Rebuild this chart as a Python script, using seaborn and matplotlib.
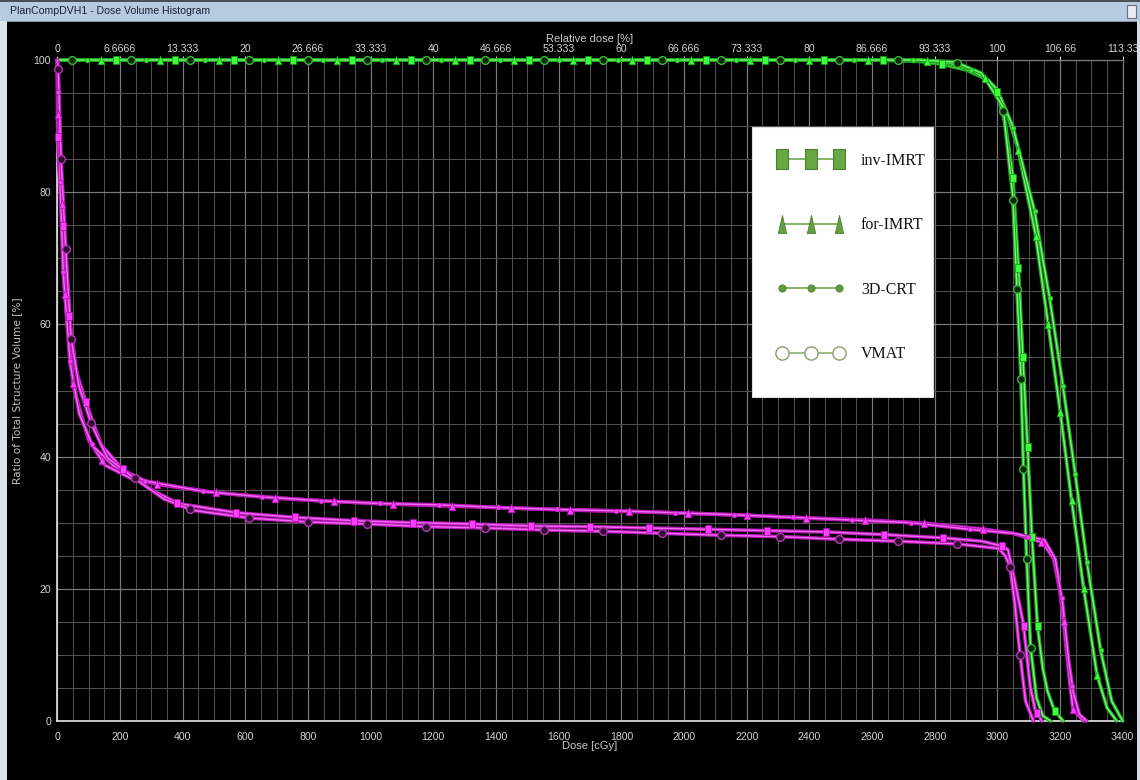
import numpy as np
import matplotlib
matplotlib.use("Agg")
import matplotlib.pyplot as plt
import matplotlib.patheffects as pe
from matplotlib.lines import Line2D
from matplotlib.patches import Rectangle
from matplotlib.legend_handler import HandlerLine2D
import seaborn as sns

# ---------------- data ----------------
plans = ["inv-IMRT", "for-IMRT", "3D-CRT", "VMAT"]

# PTV (green) curves: dose [cGy], volume [%]
ptv_inv_dose = [0, 2600, 2750, 2820, 2900, 2960, 2996, 3025, 3049, 3067, 3081, 3096, 3110, 3128, 3145, 3160, 3182, 3210]
ptv_inv_vol = [100, 100, 99.8, 99.4, 98.5, 97.2, 95.5, 90.5, 82.6, 68.8, 55.4, 41.8, 28.2, 14.4, 8.0, 4.5, 1.6, 0]

ptv_for_dose = [0, 2700, 2800, 2880, 2954, 3000, 3030, 3064, 3121, 3161, 3200, 3236, 3275, 3318, 3350, 3381]
ptv_for_vol = [100, 100, 99.8, 99.0, 97.6, 95.3, 92.0, 86.9, 73.8, 60.4, 47.0, 33.7, 20.2, 7.0, 2.0, 0]

ptv_3d_dose = [0, 2750, 2850, 2911, 2970, 3000, 3049, 3118, 3166, 3209, 3248, 3286, 3330, 3365, 3400]
ptv_3d_vol = [100, 100, 99.5, 98.7, 97.0, 95.5, 90.0, 77.3, 64.2, 50.8, 37.5, 24.0, 10.6, 3.0, 0]

ptv_vmat_dose = [0, 2750, 2865, 2950, 3018, 3049, 3062, 3075, 3083, 3093, 3106, 3125, 3145, 3170]
ptv_vmat_vol = [100, 100, 99.7, 98.0, 92.9, 79.5, 65.8, 52.3, 38.6, 25.0, 11.2, 3.5, 0.8, 0]

# OAR (magenta) curves
oar_inv_dose = [0, 1, 5, 19, 38, 60, 92, 140, 212, 300, 386, 573, 761, 948, 1136, 1325, 1512, 1700, 1888,
                2076, 2264, 2453, 2639, 2828, 2950, 3014, 3034, 3050, 3065, 3083, 3105, 3121, 3142]
oar_inv_vol = [100, 90, 84, 74.5, 61.2, 53.0, 48.1, 41.8, 37.9, 35.0, 32.9, 31.5, 30.8, 30.3, 30.0, 29.8, 29.5, 29.4, 29.2,
               29.0, 28.8, 28.6, 28.2, 27.7, 27.2, 26.5, 25.9, 22.4, 19.0, 14.7, 5.2, 1.6, 0]

oar_for_dose = [0, 3, 14, 26, 51, 100, 152, 240, 331, 518, 705, 892, 1081, 1269, 1456, 1644, 1831, 2019, 2208,
                2397, 2583, 2773, 2959, 3050, 3145, 3180, 3200, 3211, 3225, 3241, 3275]
oar_for_vol = [100, 91.5, 77.8, 64.2, 50.6, 42.5, 38.7, 36.6, 35.7, 34.5, 33.7, 33.2, 32.8, 32.5, 32.2, 31.9, 31.7, 31.4, 31.1,
               30.7, 30.4, 29.9, 29.0, 28.4, 27.0, 24.5, 19.5, 15.2, 8.5, 1.8, 0]

oar_3d_dose = [0, 3, 9, 19, 41, 70, 113, 180, 282, 471, 657, 846, 1032, 1219, 1408, 1596, 1785, 1974, 2160,
               2349, 2537, 2725, 2911, 3050, 3150, 3185, 3209, 3228, 3243, 3262, 3285]
oar_3d_vol = [100, 95, 81.3, 67.7, 54.1, 46.5, 41.6, 38.6, 36.3, 34.7, 33.9, 33.3, 32.9, 32.7, 32.3, 32.0, 31.8, 31.5, 31.2,
              30.8, 30.4, 30.0, 29.0, 28.4, 27.4, 24.5, 17.5, 9.0, 4.2, 1.0, 0]

oar_vmat_dose = [0, 3, 12, 27, 44, 70, 110, 160, 253, 340, 429, 615, 804, 993, 1181, 1368, 1557, 1743, 1932,
                 2121, 2307, 2496, 2684, 2871, 3004, 3025, 3041, 3055, 3073, 3090, 3115]
oar_vmat_vol = [100, 98.6, 85, 71.3, 57.9, 50.5, 44.8, 39.8, 36.5, 33.6, 31.9, 30.7, 30.1, 29.8, 29.4, 29.2, 28.9, 28.7, 28.4,
                28.1, 27.9, 27.5, 27.2, 26.8, 26.1, 25.0, 23.3, 18.0, 9.8, 3.0, 0]

dose_ticks = [0, 200, 400, 600, 800, 1000, 1200, 1400, 1600, 1800, 2000, 2200, 2400, 2600, 2800, 3000, 3200, 3400]
dose_tick_labels = [str(t) for t in dose_ticks]
rel_dose_labels = ["0", "6.6666", "13.333", "20", "26.666", "33.333", "40", "46.666", "53.333", "60",
                   "66.666", "73.333", "80", "86.666", "93.333", "100", "106.66", "113.33"]
vol_ticks = [0, 20, 40, 60, 80, 100]

# ---------------- style ----------------
sns.set_theme(style="dark")
plt.rcParams["font.family"] = ["Liberation Sans", "DejaVu Sans"]

W, H = 1140, 780
fig = plt.figure(figsize=(W / 100, H / 100), dpi=100, facecolor="black")
ax = fig.add_axes([57.3 / W, 1 - 721 / H, 1065.4 / W, 661 / H])
ax.set_facecolor("black")
ax.set_xlim(0, 3400)
ax.set_ylim(0, 100)

# grid
ax.set_xticks(np.arange(0, 3401, 50), minor=True)
ax.set_yticks(np.arange(0, 101, 5), minor=True)
ax.grid(which="minor", color="#4f4f4f", linewidth=0.75)
ax.grid(which="major", color="#7a7a7a", linewidth=0.85)
ax.set_axisbelow(True)

for side in ["left", "bottom"]:
    ax.spines[side].set_color("#e6e6e6")
    ax.spines[side].set_linewidth(1.2)
for side in ["top", "right"]:
    ax.spines[side].set_color("#7a7a7a")
    ax.spines[side].set_linewidth(0.9)

tick_col = "#d4d4d4"
ax.set_xticks(dose_ticks, labels=dose_tick_labels)
ax.set_yticks(vol_ticks, labels=[str(v) for v in vol_ticks])
ax.tick_params(axis="x", which="major", colors="#cfcfcf", labelcolor=tick_col, labelsize=7.6,
               length=3, width=0.8, pad=5, direction="out")
ax.tick_params(axis="y", which="major", colors="#cfcfcf", labelcolor=tick_col, labelsize=7.6,
               length=3, width=0.8, pad=1.5, direction="out")
ax.tick_params(which="minor", length=0)

ax.set_xlabel("Dose [cGy]", color="#c8c8c8", fontsize=8)
ax.xaxis.set_label_coords(0.5, -0.031)
ax.set_ylabel("Ratio of Total Structure Volume [%]", color="#c0c0c0", fontsize=7.6, family="DejaVu Sans")
ax.yaxis.set_label_coords(-0.033, 0.5)

secax = ax.secondary_xaxis("top", functions=(lambda d: d / 30.0, lambda p: p * 30.0))
secax.set_ticks([d / 30.0 for d in dose_ticks], labels=rel_dose_labels)
secax.tick_params(colors="#cfcfcf", labelcolor=tick_col, labelsize=7.6, length=3, width=0.8, pad=1.5)
secax.spines["top"].set_visible(False)
secax.set_xlabel("Relative dose [%]", color="#c8c8c8", fontsize=8, labelpad=1.0)

# ---------------- curves ----------------
green_fx = [pe.Stroke(linewidth=2.7, foreground="#1fa31f"), pe.Normal()]
mag_fx = [pe.Stroke(linewidth=2.7, foreground="#b81ab8"), pe.Normal()]

tall_square = [(-0.36, -0.5), (0.36, -0.5), (0.36, 0.5), (-0.36, 0.5), (-0.36, -0.5)]
tall_tri = [(-0.4, -0.5), (0.4, -0.5), (0.0, 0.5), (-0.4, -0.5)]

ptv_curves = [(ptv_inv_dose, ptv_inv_vol), (ptv_for_dose, ptv_for_vol),
              (ptv_3d_dose, ptv_3d_vol), (ptv_vmat_dose, ptv_vmat_vol)]
oar_curves = [(oar_inv_dose, oar_inv_vol), (oar_for_dose, oar_for_vol),
              (oar_3d_dose, oar_3d_vol), (oar_vmat_dose, oar_vmat_vol)]

for d, v in ptv_curves:
    sns.lineplot(x=d, y=v, ax=ax, sort=False, estimator=None, color="#78f878", linewidth=1.0,
                 path_effects=green_fx, clip_on=False, zorder=3, legend=False)
for d, v in oar_curves:
    sns.lineplot(x=d, y=v, ax=ax, sort=False, estimator=None, color="#f46af4", linewidth=1.0,
                 path_effects=mag_fx, clip_on=False, zorder=3, legend=False)


def marker_positions(x, y, phase, step=59.0, ysc=0.656):
    pts = ax.transData.transform(np.column_stack([x, y]))
    dlt = np.diff(pts, axis=0)
    seg = np.hypot(dlt[:, 0], dlt[:, 1] * ysc)
    cum = np.concatenate([[0.0], np.cumsum(seg)])
    t = np.arange(phase, cum[-1], step)
    px = np.interp(t, cum, pts[:, 0])
    py = np.interp(t, cum, pts[:, 1])
    out = ax.transData.inverted().transform(np.column_stack([px, py]))
    return out[:, 0], out[:, 1]


green_styles = [dict(marker=tall_square, markersize=6.2, mfc="#3cff3c", mec="#149014", mew=0.5),
                dict(marker=tall_tri, markersize=6.2, mfc="#3cff3c", mec="#149014", mew=0.5),
                dict(marker="o", markersize=3.6, mfc="#3ae83a", mec="#149014", mew=0.4),
                dict(marker="o", markersize=5.6, mfc="#0c260c", mec="#36b836", mew=1.0)]
mag_styles = [dict(marker=tall_square, markersize=6.2, mfc="#ff3cff", mec="#a010a0", mew=0.5),
              dict(marker=tall_tri, markersize=6.2, mfc="#ff3cff", mec="#a010a0", mew=0.5),
              dict(marker="o", markersize=3.6, mfc="#f040f0", mec="#a010a0", mew=0.4),
              dict(marker="o", markersize=5.6, mfc="#300a30", mec="#b038b0", mew=1.0)]
green_phase = [58.8, 44.1, 29.4, 14.7]
mag_phase = [50.4, 35.7, 21.0, 6.3]

for (d, v), st, ph in zip(ptv_curves, green_styles, green_phase):
    mx, my = marker_positions(d, v, ph)
    ax.plot(mx, my, linestyle="none", clip_on=False, zorder=4, **st)
for (d, v), st, ph in zip(oar_curves, mag_styles, mag_phase):
    mx, my = marker_positions(d, v, ph)
    ax.plot(mx, my, linestyle="none", clip_on=False, zorder=4, **st)

# ---------------- legend ----------------
box = Rectangle((752 / W, 1 - 397 / H), 181 / W, 270 / H, transform=fig.transFigure,
                facecolor="white", edgecolor="#dddddd", linewidth=0.8, zorder=15)
ax.add_patch(box)
leg_line = "#6fa84c"
leg_sq = [(-0.31, -0.5), (0.31, -0.5), (0.31, 0.5), (-0.31, 0.5), (-0.31, -0.5)]
leg_tri = [(-0.23, -0.5), (0.23, -0.5), (0.0, 0.5), (-0.23, -0.5)]
handles = [
    Line2D([], [], color=leg_line, lw=1.2, marker=leg_sq, markersize=13.7, mfc="#66a844", mec="#4a8030", mew=0.8),
    Line2D([], [], color=leg_line, lw=1.2, marker=leg_tri, markersize=13.0, mfc="#62a040", mec="#4a8030", mew=0.6),
    Line2D([], [], color=leg_line, lw=1.2, marker="o", markersize=5.2, mfc="#5f9c3e", mec="#4a8030", mew=0.6),
    Line2D([], [], color="#8fb070", lw=1.2, marker="o", markersize=9.5, mfc="white", mec="#8e9c6a", mew=1.0),
]
FS = 11.5
fs_px = FS * 100 / 72
leg = ax.legend(handles, plans, loc="center left", bbox_to_anchor=(763 / W, 1 - 257.5 / H),
                bbox_transform=fig.transFigure, frameon=False, borderpad=0, borderaxespad=0,
                handlelength=95 / fs_px, handletextpad=3 / fs_px, labelspacing=3.03,
                prop={"family": "Liberation Serif", "size": FS},
                handler_map={Line2D: HandlerLine2D(marker_pad=19 / fs_px, numpoints=3)})
for t in leg.get_texts():
    t.set_color("#111111")
leg.set_zorder(20)

# ---------------- window chrome ----------------
fig.add_artist(Rectangle((0, 1 - 21 / H), 1, 21 / H, transform=fig.transFigure,
                         facecolor="#b6cae2", edgecolor="none", zorder=0))
fig.add_artist(Rectangle((0, 1 - 2 / H), 1, 2 / H, transform=fig.transFigure,
                         facecolor="#4a4f58", edgecolor="none", zorder=1))
fig.add_artist(Rectangle((0, 1 - 22 / H), 1, 1.2 / H, transform=fig.transFigure,
                         facecolor="#8a93a0", edgecolor="none", zorder=1))
fig.add_artist(Rectangle((0, 0), 7 / W, 1 - 21 / H, transform=fig.transFigure,
                         facecolor="#dde3ec", edgecolor="none", zorder=1))
fig.add_artist(Rectangle((1137 / W, 0), 3 / W, 1 - 21 / H, transform=fig.transFigure,
                         facecolor="#d6dbe3", edgecolor="none", zorder=1))
fig.add_artist(Rectangle((1127 / W, 1 - 18 / H), 9 / W, 13 / H, transform=fig.transFigure,
                         facecolor="#e8ecf2", edgecolor="#6a7080", linewidth=0.8, zorder=2))
fig.text(10 / W, 1 - 11 / H, "PlanCompDVH1 - Dose Volume Histogram", color="#1c2230",
         fontsize=7.6, va="center", ha="left")

fig.savefig("out.png", dpi=100, facecolor="black")
